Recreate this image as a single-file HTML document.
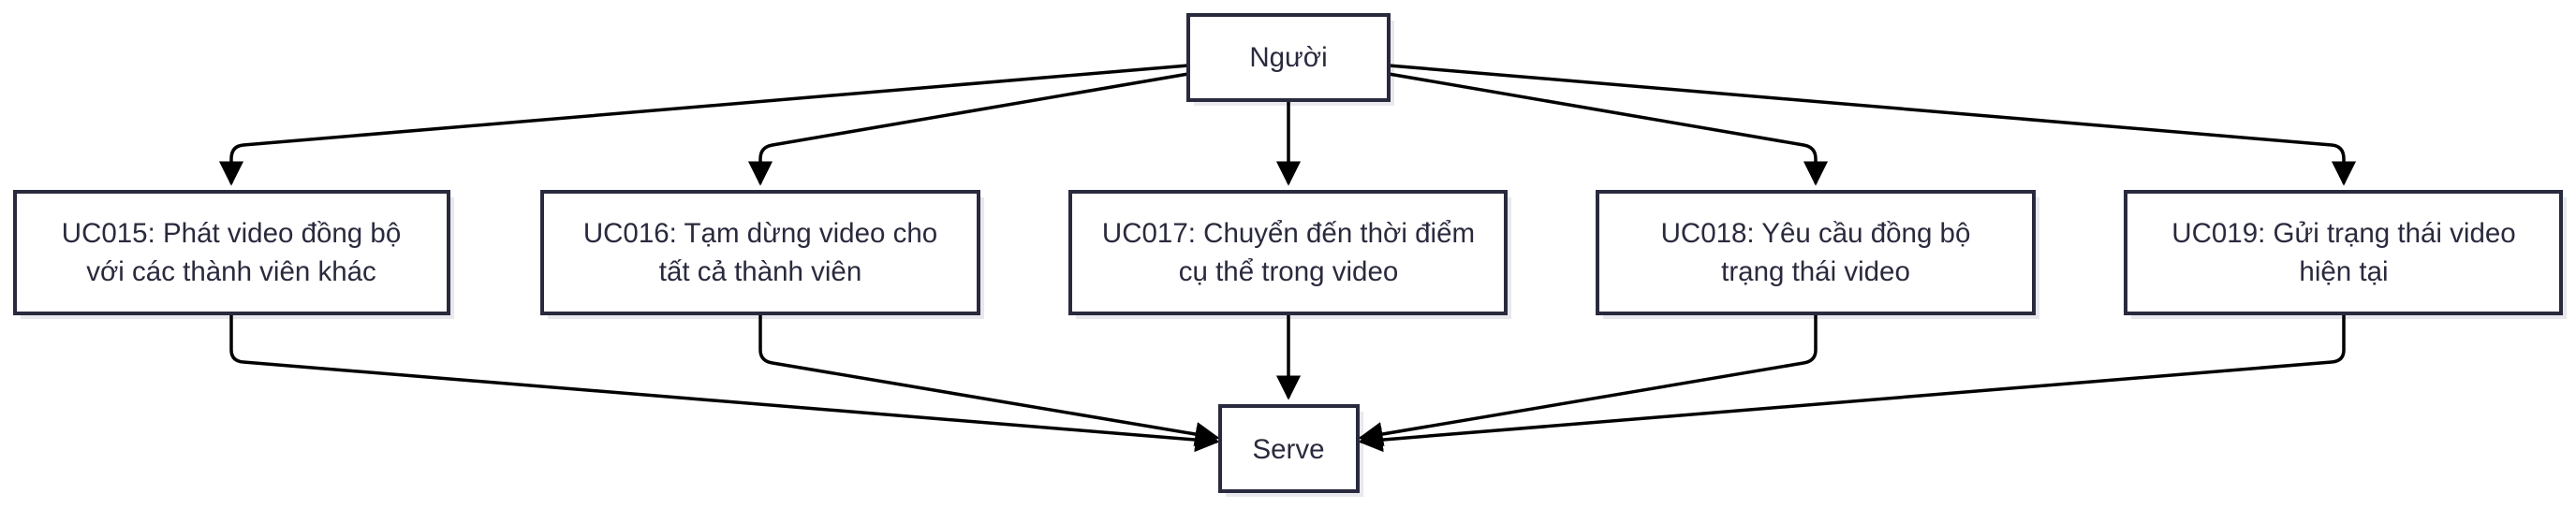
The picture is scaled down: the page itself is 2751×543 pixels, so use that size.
<!DOCTYPE html>
<html><head><meta charset="utf-8"><style>
html,body{margin:0;padding:0;background:#fff;}
svg{display:block;}
text{font-family:"Liberation Sans","DejaVu Sans",sans-serif;font-size:29.5px;fill:#2a2a3e;text-anchor:middle;}
.b{fill:#fff;stroke:#2a2a3e;stroke-width:4;}
.s{fill:#e8e8ee;}
.e{fill:none;stroke:#000;stroke-width:3.5;}
</style></head><body>
<svg width="2751" height="543" viewBox="0 0 2751 543" xmlns="http://www.w3.org/2000/svg">
<defs>
<marker id="m" viewBox="0 0 10 10" refX="9" refY="5" markerWidth="7.5" markerHeight="7.5" orient="auto"><path d="M0,0 L10,5 L0,10 z" fill="#000"/></marker></defs>
<rect class="s" x="1275" y="22" width="214" height="91"/>
<rect class="s" x="22" y="211" width="463" height="130"/>
<rect class="s" x="585" y="211" width="466" height="130"/>
<rect class="s" x="1149" y="211" width="465" height="130"/>
<rect class="s" x="1712" y="211" width="466" height="130"/>
<rect class="s" x="2276" y="211" width="465" height="130"/>
<rect class="s" x="1309" y="440" width="147" height="91"/>
<g class="e" marker-end="url(#m)">
<path d="M1269,70 L260,155 Q247,156 247,170 L247,196"/>
<path d="M1269,79 L825,155 Q812,157 812,170 L812,196"/>
<path d="M1376,107 L1376,196"/>
<path d="M1483,79 L1926,155 Q1939,157 1939,170 L1939,196"/>
<path d="M1483,70 L2490,155 Q2503,156 2503,170 L2503,196"/>
<path d="M247,335 L247,374 Q247,386 260,387 L1300,472"/>
<path d="M812,335 L812,374 Q812,386 825,388 L1300,468"/>
<path d="M1376,335 L1376,425"/>
<path d="M1939,335 L1939,374 Q1939,386 1926,388 L1453,468"/>
<path d="M2503,335 L2503,374 Q2503,386 2490,387 L1453,472"/>
</g>
<rect class="b" x="1269" y="16" width="214" height="91"/>
<text x="1376" y="71">Người</text>
<rect class="b" x="16" y="205" width="463" height="130"/>
<text x="247" y="259">UC015: Phát video đồng bộ</text>
<text x="247" y="300">với các thành viên khác</text>
<rect class="b" x="579" y="205" width="466" height="130"/>
<text x="812" y="259">UC016: Tạm dừng video cho</text>
<text x="812" y="300">tất cả thành viên</text>
<rect class="b" x="1143" y="205" width="465" height="130"/>
<text x="1376" y="259">UC017: Chuyển đến thời điểm</text>
<text x="1376" y="300">cụ thể trong video</text>
<rect class="b" x="1706" y="205" width="466" height="130"/>
<text x="1939" y="259">UC018: Yêu cầu đồng bộ</text>
<text x="1939" y="300">trạng thái video</text>
<rect class="b" x="2270" y="205" width="465" height="130"/>
<text x="2503" y="259">UC019: Gửi trạng thái video</text>
<text x="2503" y="300">hiện tại</text>
<rect class="b" x="1303" y="434" width="147" height="91"/>
<text x="1376" y="490">Serve</text>
</svg>
</body></html>
